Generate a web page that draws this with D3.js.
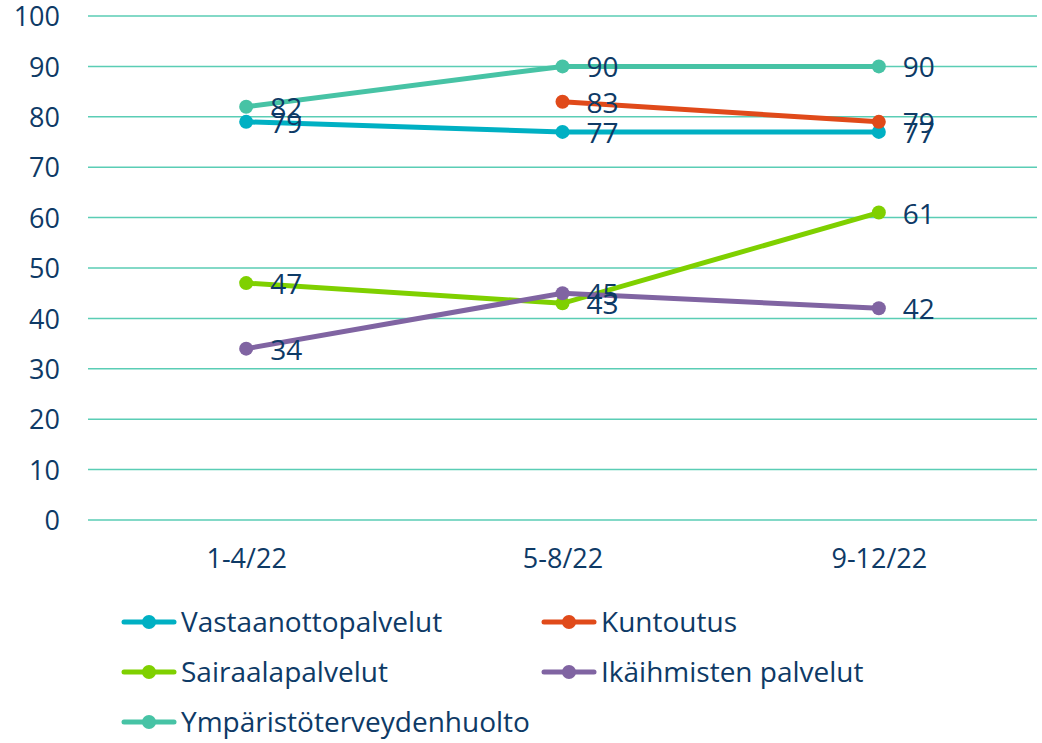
<!DOCTYPE html>
<html>
<head>
<meta charset="utf-8">
<script src="https://cdn.jsdelivr.net/npm/d3@7"></script>
<style>
  body { margin: 0; background: #fff; }
  text { font-family: "Open Sans", sans-serif; fill: #0E3A66; }
</style>
</head>
<body>
<div id="container"></div>
<script>
/* DATA */
const periods = ["1-4/22", "5-8/22", "9-12/22"];
const seriesNames = ["Vastaanottopalvelut", "Kuntoutus", "Sairaalapalvelut", "Ikäihmisten palvelut", "Ympäristöterveydenhuolto"];
const vastaanotto = [79, 77, 77];
const kuntoutus = [null, 83, 79];
const sairaala = [47, 43, 61];
const ikaihmiset = [34, 45, 42];
const ymparisto = [82, 90, 90];
const yTicks = [0, 10, 20, 30, 40, 50, 60, 70, 80, 90, 100];
const colors = ["#00B0C3", "#E04A1A", "#7FD000", "#8064A2", "#47C3A5"];

const allValues = [vastaanotto, kuntoutus, sairaala, ikaihmiset, ymparisto];

const width = 1042, height = 743;
const svg = d3.select("#container").append("svg")
  .attr("width", width).attr("height", height);

const xScale = d3.scalePoint().domain(periods).range([88, 1037]).padding(0.5);
const yScale = d3.scaleLinear().domain([0, 100]).range([520, 16]);

// gridlines
svg.append("g").selectAll("line")
  .data(yTicks)
  .join("line")
  .attr("x1", 88).attr("x2", 1037)
  .attr("y1", d => yScale(d)).attr("y2", d => yScale(d))
  .attr("stroke", "#5ACDB5").attr("stroke-width", 1.5);

// y axis labels
const yAxis = svg.append("g")
  .attr("transform", "translate(60,1)")
  .call(d3.axisLeft(yScale).tickValues(yTicks).tickSize(0).tickPadding(0));
yAxis.select(".domain").remove();
yAxis.selectAll("text").style("font-size", "27px").attr("fill", "#0E3A66")
  .style("font-family", "'Open Sans', sans-serif");

// x axis labels
const xAxis = svg.append("g")
  .attr("transform", "translate(0,549)")
  .call(d3.axisBottom(xScale).tickSize(0).tickPadding(0));
xAxis.select(".domain").remove();
xAxis.selectAll("text").style("font-size", "27px").attr("fill", "#0E3A66")
  .style("font-family", "'Open Sans', sans-serif");

const series = seriesNames.map((name, i) => ({
  name, color: colors[i],
  points: periods.map((p, j) => ({ period: p, value: allValues[i][j] })).filter(d => d.value != null)
}));

const line = d3.line().x(d => xScale(d.period)).y(d => yScale(d.value));

const g = svg.append("g");
series.forEach(s => {
  g.append("path").datum(s.points)
    .attr("d", line).attr("fill", "none")
    .attr("stroke", s.color).attr("stroke-width", 5).attr("stroke-linecap", "round");
  g.selectAll(null).data(s.points).join("circle")
    .attr("cx", d => xScale(d.period)).attr("cy", d => yScale(d.value))
    .attr("r", 7).attr("fill", s.color);
});

// data labels
series.forEach(s => {
  svg.append("g").selectAll("text").data(s.points).join("text")
    .attr("x", d => xScale(d.period) + 24)
    .attr("y", d => yScale(d.value) + 11)
    .style("font-size", "28px")
    .text(d => d.value);
});

// legend
const legendPos = [[122, 622], [542, 622], [122, 672], [542, 672], [122, 722]];
series.forEach((s, i) => {
  const [lx, ly] = legendPos[i];
  const lg = svg.append("g").attr("transform", `translate(${lx},${ly})`);
  lg.append("line").attr("x1", 2).attr("x2", 52).attr("y1", 0).attr("y2", 0)
    .attr("stroke", s.color).attr("stroke-width", 5).attr("stroke-linecap", "round");
  lg.append("circle").attr("cx", 27).attr("cy", 0).attr("r", 7).attr("fill", s.color);
  lg.append("text").attr("x", 59).attr("y", 10).style("font-size", "28px").text(s.name);
});
</script>
</body>
</html>
